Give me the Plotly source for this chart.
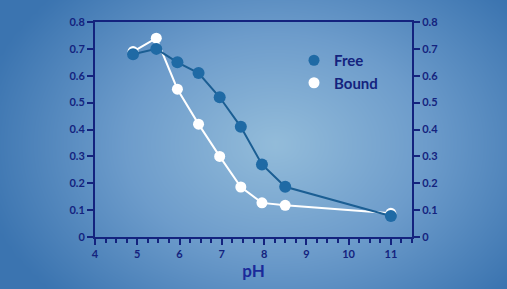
import numpy as np
import plotly.graph_objects as go

ph = [4.9, 5.45, 5.95, 6.45, 6.95, 7.45, 7.95, 8.5, 11.0]
free = [0.68, 0.70, 0.65, 0.61, 0.52, 0.41, 0.27, 0.187, 0.078]
bound = [0.69, 0.74, 0.55, 0.42, 0.30, 0.186, 0.127, 0.118, 0.088]
y_ticks = [0, 0.1, 0.2, 0.3, 0.4, 0.5, 0.6, 0.7, 0.8]
y_tick_text = ["0", "0.1", "0.2", "0.3", "0.4", "0.5", "0.6", "0.7", "0.8"]
x_ticks = [4, 5, 6, 7, 8, 9, 10, 11]

W, H = 507, 289
NAVY = "#14237e"
FREE_C = "#1f6aa5"
FONT = "Lato"

# radial background gradient
gx = np.linspace(-40, W + 40, 70)
gy = np.linspace(-40, H + 40, 50)
GX, GY = np.meshgrid(gx, gy)
cx, cy = 275, 145
d = np.sqrt(((GX - cx) / 300.0) ** 2 + ((GY - cy) / 220.0) ** 2)
d = np.clip(d, 0, 1)

fig = go.Figure()
fig.add_trace(go.Heatmap(
    x=gx, y=gy, z=d, xaxis="x", yaxis="y", zsmooth="best",
    colorscale=[[0, "#93bcda"], [0.5, "#6d9ccb"], [1, "#3b74b0"]],
    zmin=0, zmax=1, showscale=False, hoverinfo="skip",
))

fig.add_trace(go.Scatter(
    x=ph, y=bound, mode="lines+markers", xaxis="x2", yaxis="y2",
    line=dict(color="white", width=2),
    marker=dict(color="white", size=11),
    showlegend=False,
))
fig.add_trace(go.Scatter(
    x=ph, y=free, mode="lines+markers", xaxis="x2", yaxis="y2",
    line=dict(color="#1b5e93", width=2),
    marker=dict(color=FREE_C, size=12),
    showlegend=False,
))
fig.add_trace(go.Scatter(
    x=[None], y=[None], mode="markers", xaxis="x2", yaxis="y2",
    marker=dict(color=FREE_C, size=11), name="Free",
))
fig.add_trace(go.Scatter(
    x=[None], y=[None], mode="markers", xaxis="x2", yaxis="y2",
    marker=dict(color="white", size=11), name="Bound",
))
# right axis helper
fig.add_trace(go.Scatter(
    x=[None], y=[None], mode="markers", xaxis="x2", yaxis="y3",
    showlegend=False, hoverinfo="skip",
))

xd = [95 / W, 412 / W]
yd = [(H - 237) / H, (H - 22) / H]

tickfont = dict(family=FONT, size=11, color=NAVY, weight="bold")

fig.update_layout(
    width=W, height=H,
    margin=dict(l=0, r=0, t=0, b=0, pad=0, autoexpand=False),
    paper_bgcolor="#5a8cc0",
    plot_bgcolor="rgba(0,0,0,0)",
    xaxis=dict(domain=[0, 1], range=[0, W], visible=False, fixedrange=True, automargin=False),
    yaxis=dict(domain=[0, 1], range=[0, H], visible=False, fixedrange=True, automargin=False),
    xaxis2=dict(
        domain=xd, anchor="y2", range=[4, 11.5], automargin=False,
        tickvals=x_ticks, ticks="outside", ticklen=6, tickwidth=2, tickcolor=NAVY,
        minor=dict(dtick=0.25, tick0=4, ticks="outside", ticklen=4, tickwidth=1.5, tickcolor=NAVY),
        showline=True, linecolor=NAVY, linewidth=2, mirror=True,
        showgrid=False, zeroline=False, tickfont=tickfont,
        title=dict(text="pH", font=dict(family=FONT, size=17, color="#1a2a9a", weight="bold"), standoff=6),
    ),
    yaxis2=dict(
        domain=yd, anchor="x2", range=[0, 0.8], automargin=False,
        tickvals=y_ticks, ticktext=y_tick_text,
        ticks="outside", ticklen=6, tickwidth=2, tickcolor=NAVY,
        showline=True, linecolor=NAVY, linewidth=2,
        showgrid=False, zeroline=False, tickfont=tickfont,
    ),
    yaxis3=dict(
        overlaying="y2", anchor="x2", side="right", range=[0, 0.8], automargin=False,
        tickvals=y_ticks, ticktext=y_tick_text,
        ticks="outside", ticklen=6, tickwidth=2, tickcolor=NAVY,
        showline=True, linecolor=NAVY, linewidth=2,
        showgrid=False, zeroline=False, tickfont=tickfont,
    ),
    legend=dict(
        x=294 / W, y=1 - 44 / H, xanchor="left", yanchor="top",
        bgcolor="rgba(0,0,0,0)",
        font=dict(family=FONT, size=15, color=NAVY, weight="bold"),
        itemwidth=30, tracegroupgap=2,
    ),
    showlegend=True,
)

fig.write_html("out.html")
